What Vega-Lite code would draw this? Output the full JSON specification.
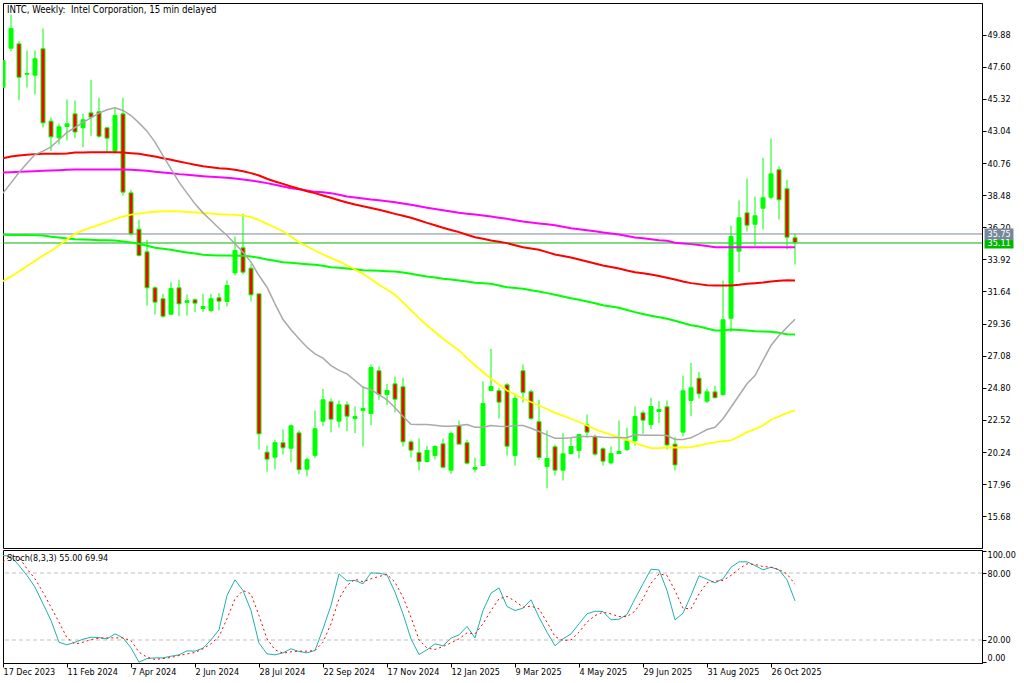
{
  "$schema": "https://vega.github.io/schema/vega-lite/v6.json",
  "description": "INTC weekly candles with moving averages and a stochastic panel",
  "padding": {"left": 2, "top": 2, "right": 0, "bottom": 0},
  "background": "white",
  "spacing": 0,
  "datasets": {
    "quotes": [
      {"kind": "ask", "label": "35.75", "level": 35.72, "top": 36.11, "bottom": 35.29, "left": 122.69, "right": 126.31},
      {"kind": "last", "label": "35.11", "level": 35.08, "top": 35.29, "bottom": 34.69, "left": 122.69, "right": 126.31}
    ],
    "levels": [{"level": 80}, {"level": 20}],
    "weeks": [
      {"k":0,"o":46.12,"h":48.04,"l":46.12,"c":48.04,"gray":38.62,"yellow":32.37,"red":41.10,"magenta":40.09,"green":35.66,"stoch":95.7,"signal":89.7},
      {"k":1,"o":48.91,"h":51.30,"l":48.70,"c":50.31,"gray":39.35,"yellow":32.70,"red":41.22,"magenta":40.11,"green":35.65,"stoch":94.8,"signal":95.7},
      {"k":2,"o":49.22,"h":49.41,"l":45.22,"c":46.85,"gray":40.09,"yellow":33.06,"red":41.29,"magenta":40.14,"green":35.65,"stoch":86.7,"signal":94.2},
      {"k":3,"o":47.06,"h":48.75,"l":46.12,"c":47.12,"gray":40.75,"yellow":33.45,"red":41.34,"magenta":40.16,"green":35.64,"stoch":77.8,"signal":83.7},
      {"k":4,"o":47.00,"h":48.75,"l":45.62,"c":48.16,"gray":41.36,"yellow":33.80,"red":41.39,"magenta":40.18,"green":35.63,"stoch":67.3,"signal":74.8},
      {"k":5,"o":48.87,"h":50.31,"l":43.28,"c":43.61,"gray":41.60,"yellow":34.19,"red":41.41,"magenta":40.21,"green":35.61,"stoch":52.4,"signal":62.8},
      {"k":6,"o":43.73,"h":43.99,"l":41.60,"c":42.62,"gray":41.91,"yellow":34.51,"red":41.41,"magenta":40.23,"green":35.52,"stoch":37.5,"signal":49.4},
      {"k":7,"o":42.55,"h":43.56,"l":42.07,"c":43.33,"gray":42.41,"yellow":34.90,"red":41.41,"magenta":40.25,"green":35.47,"stoch":18.0,"signal":36.0},
      {"k":8,"o":43.35,"h":45.27,"l":42.36,"c":43.54,"gray":42.93,"yellow":35.33,"red":41.44,"magenta":40.28,"green":35.40,"stoch":15.7,"signal":21.9},
      {"k":9,"o":44.25,"h":45.20,"l":42.52,"c":42.96,"gray":43.28,"yellow":35.73,"red":41.51,"magenta":40.30,"green":35.35,"stoch":18.0,"signal":16.3},
      {"k":10,"o":43.26,"h":44.27,"l":41.88,"c":43.83,"gray":43.64,"yellow":35.97,"red":41.51,"magenta":40.30,"green":35.33,"stoch":20.7,"signal":18.0},
      {"k":11,"o":44.32,"h":46.67,"l":42.69,"c":44.01,"gray":43.97,"yellow":36.18,"red":41.53,"magenta":40.30,"green":35.31,"stoch":22.5,"signal":20.4},
      {"k":12,"o":44.40,"h":45.39,"l":42.55,"c":42.66,"gray":44.30,"yellow":36.37,"red":41.53,"magenta":40.30,"green":35.28,"stoch":22.2,"signal":21.6},
      {"k":13,"o":43.26,"h":43.26,"l":41.53,"c":42.52,"gray":44.54,"yellow":36.57,"red":41.53,"magenta":40.30,"green":35.28,"stoch":21.0,"signal":21.9},
      {"k":14,"o":41.60,"h":44.63,"l":41.41,"c":44.13,"gray":44.68,"yellow":36.77,"red":41.53,"magenta":40.30,"green":35.26,"stoch":25.5,"signal":21.9},
      {"k":15,"o":44.25,"h":45.39,"l":38.45,"c":38.69,"gray":44.49,"yellow":36.96,"red":41.51,"magenta":40.30,"green":35.19,"stoch":21.9,"signal":21.9},
      {"k":16,"o":38.64,"h":38.86,"l":35.61,"c":35.73,"gray":44.13,"yellow":37.10,"red":41.46,"magenta":40.28,"green":35.12,"stoch":13.0,"signal":19.5},
      {"k":17,"o":36.06,"h":36.73,"l":34.12,"c":34.19,"gray":43.61,"yellow":37.17,"red":41.41,"magenta":40.25,"green":35.02,"stoch":0.1,"signal":9.1},
      {"k":18,"o":34.45,"h":35.31,"l":30.64,"c":31.90,"gray":43.02,"yellow":37.25,"red":41.31,"magenta":40.21,"green":34.88,"stoch":3.4,"signal":4.6},
      {"k":19,"o":31.90,"h":31.99,"l":30.00,"c":30.88,"gray":42.24,"yellow":37.30,"red":41.22,"magenta":40.14,"green":34.74,"stoch":4.0,"signal":2.5},
      {"k":20,"o":31.12,"h":31.47,"l":29.77,"c":29.88,"gray":41.29,"yellow":37.32,"red":41.10,"magenta":40.09,"green":34.67,"stoch":4.0,"signal":3.4},
      {"k":21,"o":30.02,"h":32.30,"l":30.02,"c":31.85,"gray":40.35,"yellow":37.34,"red":40.99,"magenta":40.04,"green":34.60,"stoch":5.5,"signal":4.3},
      {"k":22,"o":31.90,"h":32.47,"l":29.88,"c":30.76,"gray":39.40,"yellow":37.32,"red":40.87,"magenta":39.97,"green":34.50,"stoch":6.7,"signal":6.1},
      {"k":23,"o":30.86,"h":31.42,"l":29.93,"c":30.98,"gray":38.62,"yellow":37.28,"red":40.75,"magenta":39.92,"green":34.41,"stoch":10.3,"signal":7.6},
      {"k":24,"o":31.05,"h":31.14,"l":30.17,"c":30.81,"gray":37.86,"yellow":37.25,"red":40.63,"magenta":39.87,"green":34.33,"stoch":10.0,"signal":8.8},
      {"k":25,"o":30.43,"h":31.47,"l":30.17,"c":30.57,"gray":37.22,"yellow":37.21,"red":40.53,"magenta":39.82,"green":34.24,"stoch":12.7,"signal":12.1},
      {"k":26,"o":30.29,"h":31.47,"l":30.17,"c":31.12,"gray":36.68,"yellow":37.17,"red":40.46,"magenta":39.78,"green":34.21,"stoch":20.1,"signal":16.6},
      {"k":27,"o":31.19,"h":31.52,"l":30.29,"c":30.95,"gray":36.13,"yellow":37.12,"red":40.39,"magenta":39.75,"green":34.19,"stoch":29.1,"signal":23.1},
      {"k":28,"o":30.93,"h":32.42,"l":30.57,"c":32.06,"gray":35.61,"yellow":37.10,"red":40.35,"magenta":39.71,"green":34.19,"stoch":59.9,"signal":39.0},
      {"k":29,"o":32.96,"h":35.54,"l":32.77,"c":34.55,"gray":35.02,"yellow":37.07,"red":40.28,"magenta":39.66,"green":34.17,"stoch":73.9,"signal":56.9},
      {"k":30,"o":34.74,"h":37.15,"l":32.84,"c":33.01,"gray":34.43,"yellow":37.03,"red":40.18,"magenta":39.59,"green":34.17,"stoch":64.3,"signal":64.3},
      {"k":31,"o":33.29,"h":33.60,"l":30.93,"c":31.40,"gray":33.72,"yellow":36.91,"red":40.04,"magenta":39.52,"green":34.12,"stoch":46.4,"signal":61.3},
      {"k":32,"o":31.47,"h":31.49,"l":20.42,"c":21.53,"gray":32.77,"yellow":36.71,"red":39.87,"magenta":39.43,"green":34.03,"stoch":17.2,"signal":41.9},
      {"k":33,"o":20.23,"h":20.70,"l":18.84,"c":19.73,"gray":31.94,"yellow":36.44,"red":39.64,"magenta":39.33,"green":33.91,"stoch":7.6,"signal":21.0},
      {"k":34,"o":19.87,"h":21.11,"l":19.00,"c":20.90,"gray":30.76,"yellow":36.18,"red":39.45,"magenta":39.21,"green":33.82,"stoch":6.7,"signal":11.2},
      {"k":35,"o":20.90,"h":21.84,"l":20.06,"c":20.54,"gray":29.65,"yellow":35.92,"red":39.28,"magenta":39.09,"green":33.72,"stoch":8.5,"signal":8.2},
      {"k":36,"o":20.51,"h":22.19,"l":19.50,"c":22.10,"gray":28.92,"yellow":35.54,"red":39.09,"magenta":38.97,"green":33.67,"stoch":12.1,"signal":9.4},
      {"k":37,"o":21.60,"h":21.77,"l":18.66,"c":18.98,"gray":28.28,"yellow":35.14,"red":38.93,"magenta":38.90,"green":33.62,"stoch":9.7,"signal":10.0},
      {"k":38,"o":19.02,"h":19.85,"l":18.52,"c":19.69,"gray":27.68,"yellow":34.83,"red":38.76,"magenta":38.81,"green":33.57,"stoch":8.5,"signal":10.0},
      {"k":39,"o":20.00,"h":23.19,"l":19.80,"c":21.89,"gray":27.21,"yellow":34.55,"red":38.62,"magenta":38.71,"green":33.53,"stoch":10.6,"signal":10.6},
      {"k":40,"o":22.43,"h":24.73,"l":22.07,"c":23.95,"gray":26.90,"yellow":34.26,"red":38.45,"magenta":38.69,"green":33.46,"stoch":30.0,"signal":18.0},
      {"k":41,"o":23.81,"h":24.04,"l":21.63,"c":22.57,"gray":26.38,"yellow":34.01,"red":38.29,"magenta":38.62,"green":33.36,"stoch":50.9,"signal":34.5},
      {"k":42,"o":22.43,"h":23.90,"l":21.98,"c":23.59,"gray":26.03,"yellow":33.77,"red":38.12,"magenta":38.50,"green":33.32,"stoch":79.2,"signal":56.9},
      {"k":43,"o":23.59,"h":23.83,"l":21.72,"c":22.78,"gray":25.79,"yellow":33.50,"red":37.96,"magenta":38.38,"green":33.27,"stoch":73.0,"signal":68.8},
      {"k":44,"o":22.62,"h":23.47,"l":21.58,"c":22.76,"gray":25.32,"yellow":33.20,"red":37.81,"magenta":38.31,"green":33.21,"stoch":73.3,"signal":74.5},
      {"k":45,"o":23.19,"h":24.89,"l":20.63,"c":23.33,"gray":24.84,"yellow":32.89,"red":37.69,"magenta":38.24,"green":33.15,"stoch":70.3,"signal":72.1},
      {"k":46,"o":22.97,"h":26.45,"l":22.14,"c":26.24,"gray":24.66,"yellow":32.52,"red":37.57,"magenta":38.17,"green":33.13,"stoch":80.1,"signal":74.8},
      {"k":47,"o":26.01,"h":26.31,"l":23.95,"c":24.32,"gray":24.32,"yellow":32.11,"red":37.44,"magenta":38.12,"green":33.11,"stoch":79.8,"signal":76.9},
      {"k":48,"o":24.32,"h":25.08,"l":23.57,"c":24.61,"gray":23.95,"yellow":31.78,"red":37.30,"magenta":38.05,"green":33.08,"stoch":78.4,"signal":78.7},
      {"k":49,"o":25.08,"h":25.60,"l":23.05,"c":23.99,"gray":23.38,"yellow":31.40,"red":37.15,"magenta":37.98,"green":33.06,"stoch":62.8,"signal":71.8},
      {"k":50,"o":24.87,"h":25.51,"l":20.63,"c":20.96,"gray":22.76,"yellow":30.86,"red":37.01,"magenta":37.89,"green":32.99,"stoch":43.4,"signal":58.3},
      {"k":51,"o":20.96,"h":21.06,"l":19.85,"c":20.37,"gray":22.21,"yellow":30.29,"red":36.87,"magenta":37.79,"green":32.89,"stoch":21.0,"signal":40.4},
      {"k":52,"o":20.19,"h":21.20,"l":18.93,"c":19.55,"gray":22.19,"yellow":29.75,"red":36.69,"magenta":37.69,"green":32.79,"stoch":7.0,"signal":20.1},
      {"k":53,"o":19.57,"h":20.68,"l":19.50,"c":20.35,"gray":22.19,"yellow":29.22,"red":36.51,"magenta":37.58,"green":32.70,"stoch":11.2,"signal":12.7},
      {"k":54,"o":19.99,"h":20.72,"l":19.71,"c":20.63,"gray":22.14,"yellow":28.76,"red":36.34,"magenta":37.49,"green":32.63,"stoch":16.6,"signal":11.5},
      {"k":55,"o":20.82,"h":21.18,"l":19.07,"c":19.16,"gray":22.07,"yellow":28.28,"red":36.16,"magenta":37.41,"green":32.54,"stoch":14.8,"signal":14.2},
      {"k":56,"o":18.95,"h":21.70,"l":18.69,"c":21.55,"gray":22.07,"yellow":27.87,"red":36.00,"magenta":37.32,"green":32.49,"stoch":21.6,"signal":17.4},
      {"k":57,"o":22.12,"h":22.48,"l":20.80,"c":20.80,"gray":22.12,"yellow":27.45,"red":35.85,"magenta":37.22,"green":32.42,"stoch":24.6,"signal":21.0},
      {"k":58,"o":20.90,"h":21.11,"l":19.35,"c":19.45,"gray":22.19,"yellow":26.91,"red":35.67,"magenta":37.16,"green":32.35,"stoch":32.1,"signal":26.4},
      {"k":59,"o":19.02,"h":19.85,"l":18.78,"c":19.14,"gray":22.00,"yellow":26.38,"red":35.49,"magenta":37.10,"green":32.25,"stoch":21.9,"signal":25.5},
      {"k":60,"o":19.28,"h":25.25,"l":19.21,"c":23.68,"gray":22.00,"yellow":25.92,"red":35.38,"magenta":37.03,"green":32.22,"stoch":46.4,"signal":34.5},
      {"k":61,"o":24.61,"h":27.57,"l":24.56,"c":24.89,"gray":22.12,"yellow":25.44,"red":35.26,"magenta":36.96,"green":32.18,"stoch":61.9,"signal":46.4},
      {"k":62,"o":24.59,"h":24.80,"l":22.62,"c":23.78,"gray":22.07,"yellow":25.03,"red":35.17,"magenta":36.88,"green":32.06,"stoch":66.7,"signal":56.9},
      {"k":63,"o":25.01,"h":25.13,"l":19.99,"c":20.65,"gray":22.05,"yellow":24.61,"red":35.07,"magenta":36.80,"green":31.94,"stoch":50.0,"signal":59.0},
      {"k":64,"o":19.99,"h":24.37,"l":19.28,"c":24.04,"gray":22.12,"yellow":24.32,"red":34.92,"magenta":36.70,"green":31.89,"stoch":46.4,"signal":54.8},
      {"k":65,"o":26.01,"h":26.45,"l":23.76,"c":24.47,"gray":22.12,"yellow":24.02,"red":34.78,"magenta":36.61,"green":31.83,"stoch":48.5,"signal":49.4},
      {"k":66,"o":24.52,"h":24.66,"l":22.53,"c":22.62,"gray":21.93,"yellow":23.79,"red":34.69,"magenta":36.54,"green":31.73,"stoch":56.0,"signal":50.3},
      {"k":67,"o":22.39,"h":23.95,"l":19.69,"c":19.85,"gray":21.70,"yellow":23.54,"red":34.60,"magenta":36.47,"green":31.64,"stoch":40.4,"signal":47.9},
      {"k":68,"o":19.21,"h":21.77,"l":17.67,"c":19.78,"gray":21.46,"yellow":23.29,"red":34.43,"magenta":36.41,"green":31.52,"stoch":27.0,"signal":36.0},
      {"k":69,"o":20.61,"h":20.77,"l":18.57,"c":18.95,"gray":21.22,"yellow":23.02,"red":34.26,"magenta":36.34,"green":31.40,"stoch":14.8,"signal":23.1},
      {"k":70,"o":18.95,"h":21.58,"l":18.22,"c":20.11,"gray":21.22,"yellow":22.83,"red":34.16,"magenta":36.24,"green":31.28,"stoch":21.0,"signal":19.5},
      {"k":71,"o":20.13,"h":21.29,"l":20.06,"c":20.63,"gray":21.25,"yellow":22.60,"red":34.05,"magenta":36.13,"green":31.16,"stoch":25.5,"signal":20.1},
      {"k":72,"o":20.35,"h":21.48,"l":19.78,"c":21.48,"gray":21.34,"yellow":22.37,"red":33.91,"magenta":36.06,"green":31.05,"stoch":34.5,"signal":27.0},
      {"k":73,"o":22.17,"h":22.90,"l":21.25,"c":21.65,"gray":21.34,"yellow":22.12,"red":33.77,"magenta":35.99,"green":30.93,"stoch":43.4,"signal":36.0},
      {"k":74,"o":21.34,"h":21.48,"l":19.97,"c":20.09,"gray":21.34,"yellow":21.87,"red":33.62,"magenta":35.91,"green":30.80,"stoch":45.8,"signal":41.9},
      {"k":75,"o":20.47,"h":20.58,"l":19.28,"c":19.59,"gray":21.29,"yellow":21.65,"red":33.48,"magenta":35.83,"green":30.66,"stoch":45.5,"signal":44.9},
      {"k":76,"o":19.47,"h":20.63,"l":19.35,"c":20.13,"gray":21.27,"yellow":21.48,"red":33.38,"magenta":35.75,"green":30.57,"stoch":38.1,"signal":43.4},
      {"k":77,"o":20.13,"h":22.48,"l":20.11,"c":20.28,"gray":21.27,"yellow":21.29,"red":33.27,"magenta":35.68,"green":30.48,"stoch":38.6,"signal":41.0},
      {"k":78,"o":20.42,"h":21.96,"l":20.30,"c":21.06,"gray":21.25,"yellow":21.09,"red":33.13,"magenta":35.58,"green":30.32,"stoch":42.8,"signal":41.0},
      {"k":79,"o":21.04,"h":23.47,"l":20.70,"c":22.76,"gray":21.48,"yellow":20.87,"red":33.01,"magenta":35.47,"green":30.17,"stoch":56.9,"signal":45.8},
      {"k":80,"o":23.02,"h":23.19,"l":21.53,"c":22.50,"gray":21.43,"yellow":20.70,"red":32.93,"magenta":35.41,"green":30.04,"stoch":70.3,"signal":56.9},
      {"k":81,"o":22.19,"h":24.09,"l":21.86,"c":23.47,"gray":21.43,"yellow":20.51,"red":32.84,"magenta":35.35,"green":29.91,"stoch":83.4,"signal":70.9},
      {"k":82,"o":23.12,"h":23.85,"l":22.29,"c":23.26,"gray":21.43,"yellow":20.51,"red":32.73,"magenta":35.28,"green":29.81,"stoch":82.8,"signal":79.2},
      {"k":83,"o":23.45,"h":23.90,"l":20.42,"c":20.74,"gray":21.41,"yellow":20.56,"red":32.61,"magenta":35.24,"green":29.70,"stoch":64.3,"signal":77.8},
      {"k":84,"o":20.80,"h":21.29,"l":18.93,"c":19.32,"gray":21.13,"yellow":20.56,"red":32.49,"magenta":35.10,"green":29.56,"stoch":38.1,"signal":64.3},
      {"k":85,"o":21.65,"h":25.67,"l":21.36,"c":24.59,"gray":21.13,"yellow":20.56,"red":32.35,"magenta":35.05,"green":29.40,"stoch":44.0,"signal":48.5},
      {"k":86,"o":23.90,"h":26.57,"l":22.78,"c":24.80,"gray":21.25,"yellow":20.58,"red":32.23,"magenta":35.00,"green":29.24,"stoch":59.9,"signal":47.9},
      {"k":87,"o":25.48,"h":25.93,"l":24.04,"c":24.37,"gray":21.53,"yellow":20.70,"red":32.16,"magenta":34.93,"green":29.15,"stoch":77.5,"signal":61.3},
      {"k":88,"o":23.85,"h":24.73,"l":23.71,"c":24.51,"gray":21.84,"yellow":20.84,"red":32.08,"magenta":34.86,"green":29.01,"stoch":74.5,"signal":71.2},
      {"k":89,"o":24.51,"h":24.94,"l":24.09,"c":24.09,"gray":22.00,"yellow":20.92,"red":32.06,"magenta":34.78,"green":28.87,"stoch":71.2,"signal":72.7},
      {"k":90,"o":24.32,"h":32.42,"l":24.23,"c":29.63,"gray":22.60,"yellow":21.01,"red":32.06,"magenta":34.78,"green":28.87,"stoch":74.8,"signal":73.3},
      {"k":91,"o":29.74,"h":36.32,"l":28.75,"c":35.54,"gray":23.42,"yellow":21.06,"red":32.06,"magenta":34.78,"green":28.94,"stoch":85.2,"signal":77.8},
      {"k":92,"o":34.50,"h":38.10,"l":33.01,"c":36.87,"gray":24.25,"yellow":21.34,"red":32.11,"magenta":34.78,"green":28.90,"stoch":90.0,"signal":83.7},
      {"k":93,"o":37.22,"h":39.66,"l":35.90,"c":36.34,"gray":25.08,"yellow":21.65,"red":32.18,"magenta":34.78,"green":28.87,"stoch":90.0,"signal":88.2},
      {"k":94,"o":36.41,"h":38.38,"l":34.85,"c":37.01,"gray":25.67,"yellow":21.87,"red":32.23,"magenta":34.78,"green":28.82,"stoch":86.7,"signal":87.6},
      {"k":95,"o":37.55,"h":41.13,"l":36.04,"c":38.29,"gray":26.74,"yellow":22.12,"red":32.28,"magenta":34.78,"green":28.80,"stoch":82.8,"signal":85.8},
      {"k":96,"o":38.33,"h":42.50,"l":38.17,"c":39.99,"gray":27.80,"yellow":22.53,"red":32.35,"magenta":34.78,"green":28.77,"stoch":85.2,"signal":85.2},
      {"k":97,"o":40.28,"h":40.51,"l":36.75,"c":38.15,"gray":28.51,"yellow":22.76,"red":32.40,"magenta":34.78,"green":28.70,"stoch":82.8,"signal":83.1},
      {"k":98,"o":38.93,"h":39.57,"l":34.62,"c":35.49,"gray":29.10,"yellow":23.02,"red":32.44,"magenta":34.78,"green":28.60,"stoch":73.9,"signal":79.2},
      {"k":99,"o":35.45,"h":35.75,"l":33.55,"c":35.11,"gray":29.67,"yellow":23.19,"red":32.42,"magenta":34.78,"green":28.58,"stoch":55.0,"signal":69.94}
    ]
  },
  "vconcat": [
    {
      "width": 979,
      "height": 545,
      "title": {"text": "INTC, Weekly:\u00a0 Intel Corporation, 15 min delayed", "anchor": "start", "frame": "group", "offset": -12, "dx": 4, "fontSize": 9.6, "fontWeight": "normal", "color": "#000000"},
      "encoding": {
        "x": {"field": "k", "type": "quantitative", "scale": {"domain": [0, 122.375], "nice": false, "zero": false, "padding": 0}, "axis": null}
      },
      "layer": [
        {
          "data": {"name": "quotes"},
          "mark": {"type": "rule", "strokeWidth": 1},
          "encoding": {
            "x": null,
            "y": {"field": "level", "type": "quantitative", "title": null, "scale": {"domain": [13.4238, 52.1205], "nice": false, "zero": false}, "axis": {"orient": "right", "title": null, "grid": false, "values": [49.88, 47.6, 45.32, 43.04, 40.76, 38.48, 36.2, 33.92, 31.64, 29.36, 27.08, 24.8, 22.52, 20.24, 17.96, 15.68], "tickCount": 20, "format": ".2f", "tickSize": 4, "labelPadding": 1, "labelOverlap": false, "domainColor": "#000000", "tickColor": "#000000"}},
            "color": {"field": "kind", "type": "nominal", "scale": {"domain": ["ask", "last"], "range": ["#778899", "#00b800"]}, "legend": null}
          }
        },
        {
          "data": {"name": "weeks"},
          "mark": {"type": "rule", "color": "#00ff00", "strokeWidth": 1, "clip": true},
          "encoding": {"y": {"field": "l", "type": "quantitative"}, "y2": {"field": "h"}}
        },
        {
          "data": {"name": "weeks"},
          "mark": {"type": "bar", "size": 4, "stroke": "#00ff00", "strokeWidth": 1, "clip": true},
          "encoding": {
            "y": {"field": "o", "type": "quantitative"},
            "y2": {"field": "c"},
            "fill": {"condition": {"test": "datum.c < datum.o", "value": "#ff0000"}, "value": "#00ff00"}
          }
        },
        {"data": {"name": "weeks"}, "mark": {"type": "line", "color": "#00ff00", "strokeWidth": 2, "clip": true}, "encoding": {"y": {"field": "green", "type": "quantitative"}}},
        {"data": {"name": "weeks"}, "mark": {"type": "line", "color": "#ff00ff", "strokeWidth": 2, "clip": true}, "encoding": {"y": {"field": "magenta", "type": "quantitative"}}},
        {"data": {"name": "weeks"}, "mark": {"type": "line", "color": "#ff0000", "strokeWidth": 2, "clip": true}, "encoding": {"y": {"field": "red", "type": "quantitative"}}},
        {"data": {"name": "weeks"}, "mark": {"type": "line", "color": "#ffff00", "strokeWidth": 1.8, "clip": true}, "encoding": {"y": {"field": "yellow", "type": "quantitative"}}},
        {"data": {"name": "weeks"}, "mark": {"type": "line", "color": "#a9a9a9", "strokeWidth": 1.5, "clip": true}, "encoding": {"y": {"field": "gray", "type": "quantitative"}}},
        {
          "data": {"name": "quotes"},
          "mark": {"type": "rect"},
          "encoding": {
            "x": {"field": "left", "type": "quantitative"},
            "x2": {"field": "right"},
            "y": {"field": "top", "type": "quantitative"},
            "y2": {"field": "bottom"},
            "color": {"field": "kind", "type": "nominal", "legend": null}
          }
        },
        {
          "data": {"name": "quotes"},
          "mark": {"type": "text", "align": "left", "baseline": "middle", "dx": 3, "dy": 0.5, "fontSize": 9, "color": "#ffffff"},
          "encoding": {
            "x": {"field": "left", "type": "quantitative"},
            "y": {"field": "level", "type": "quantitative"},
            "text": {"field": "label"}
          }
        }
      ]
    },
    {
      "width": 979,
      "height": 113,
      "title": {"text": "Stoch(8,3,3) 55.00 69.94", "anchor": "start", "frame": "group", "offset": -13, "dx": 4, "fontSize": 9, "fontWeight": "normal", "color": "#000000"},
      "encoding": {
        "x": {"field": "k", "type": "quantitative", "title": null, "scale": {"domain": [0, 122.375], "nice": false, "zero": false, "padding": 0}, "axis": {"title": null, "grid": false, "values": [0, 8, 16, 24, 32, 40, 48, 56, 64, 72, 80, 88, 96], "tickCount": 20, "labelExpr": "['17 Dec 2023','11 Feb 2024','7 Apr 2024','2 Jun 2024','28 Jul 2024','22 Sep 2024','17 Nov 2024','12 Jan 2025','9 Mar 2025','4 May 2025','29 Jun 2025','31 Aug 2025','26 Oct 2025'][datum.value / 8]", "labelAlign": "left", "labelBound": false, "labelFlush": false, "labelOverlap": false, "tickSize": 4, "labelPadding": 0, "domainColor": "#000000", "tickColor": "#000000"}}
      },
      "layer": [
        {
          "data": {"name": "levels"},
          "mark": {"type": "rule", "color": "#c0c0c0", "strokeWidth": 1, "strokeDash": [4, 3]},
          "encoding": {
            "x": null,
            "y": {"field": "level", "type": "quantitative", "title": null, "scale": {"domain": [-0.6, 100.6], "nice": false, "zero": false}, "axis": {"orient": "right", "title": null, "grid": false, "values": [100, 80, 20, 0], "tickCount": 20, "format": ".2f", "tickSize": 4, "labelPadding": 1, "labelOverlap": false, "labelBaseline": {"condition": {"test": "datum.value === 100", "value": "top"}, "value": "middle"}, "labelOffset": {"condition": {"test": "datum.value === 0", "value": -5}, "value": 0}, "domainColor": "#000000", "tickColor": "#000000"}}
          }
        },
        {"data": {"name": "weeks"}, "mark": {"type": "line", "color": "#20b2aa", "strokeWidth": 1, "clip": true}, "encoding": {"y": {"field": "stoch", "type": "quantitative"}}},
        {"data": {"name": "weeks"}, "mark": {"type": "line", "color": "#ff0000", "strokeWidth": 1, "strokeDash": [2, 3], "clip": true}, "encoding": {"y": {"field": "signal", "type": "quantitative"}}}
      ]
    }
  ],
  "config": {
    "font": "DejaVu Sans Condensed, Liberation Sans",
    "view": {"stroke": "#000000", "strokeWidth": 1},
    "axis": {"labelFontSize": 9, "labelColor": "#000000", "tickWidth": 1, "labelOverlap": false},
    "legend": {"disable": true}
  }
}
